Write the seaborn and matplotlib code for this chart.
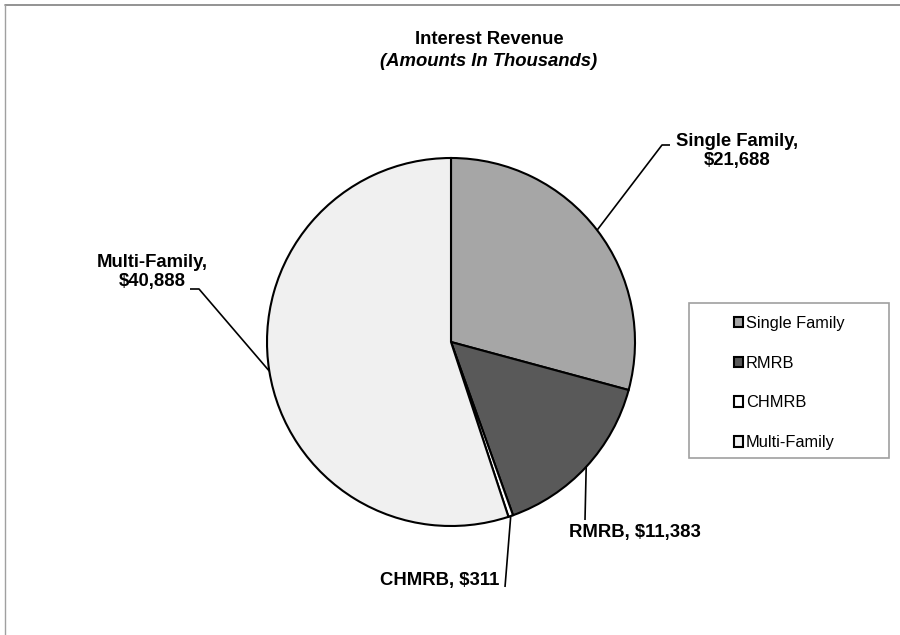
import numpy as np
import matplotlib
matplotlib.use("Agg")
import matplotlib.pyplot as plt
import seaborn as sns
from matplotlib.patches import Rectangle
from matplotlib.lines import Line2D

categories = ["Single Family", "RMRB", "CHMRB", "Multi-Family"]
values = [21688, 11383, 311, 40888]
colors = ["#a6a6a6", "#595959", "#ffffff", "#f0f0f0"]
label_texts = ["Single Family,\n$21,688", "RMRB, $11,383", "CHMRB, $311", "Multi-Family,\n$40,888"]

sns.set_style("white")
plt.rcParams['font.family'] = ['Liberation Sans', 'DejaVu Sans']
plt.rcParams['text.color'] = 'black'

W, H = 900, 635
cx, cy, R = 451, 342, 184
fig = plt.figure(figsize=(9, 6.35), dpi=100)
ax = fig.add_axes([0, 0, 1, 1])

def px(x, y):
    return ((x - cx) / R, (cy - y) / R)

wedges, _ = ax.pie(values, colors=colors, startangle=90, counterclock=False,
                   radius=1.0, wedgeprops=dict(edgecolor="black", linewidth=1.5))
ax.set_aspect("auto")
ax.set_xlim(-cx / R, (W - cx) / R)
ax.set_ylim(-(H - cy) / R, cy / R)
ax.axis("off")

# label positions (pixel space) and leader elbow points
label_pos = [(737, 151), (635, 532), (499, 580), (152, 272)]
label_ha = ["center", "center", "right", "center"]
elbows = [[(662, 145), (670, 145)], [(585, 520)], [(505, 587)], [(199, 289), (190, 289)]]

for w, txt, pos, ha, elb in zip(wedges, label_texts, label_pos, label_ha, elbows):
    ang = np.deg2rad((w.theta1 + w.theta2) / 2)
    x0, y0 = np.cos(ang), np.sin(ang)
    pts = [(x0, y0)] + [px(*e) for e in elb]
    xs, ys = zip(*pts)
    ax.plot(xs, ys, color="black", linewidth=1.2, solid_capstyle="butt")
    ax.text(*px(*pos), txt, ha=ha, va="center", fontsize=13.3, fontweight="bold",
            linespacing=1.15, color="black", multialignment="center")

fig.text(489 / W, 1 - 40 / H, "Interest Revenue", ha="center", va="center",
         fontsize=13.3, fontweight="bold", color="black")
fig.text(489 / W, 1 - 62 / H, "(Amounts In Thousands)", ha="center", va="center",
         fontsize=13.3, fontweight="bold", style="italic", color="black")

# legend
leg = ax.legend(wedges, categories, loc="center", bbox_to_anchor=(789 / W, 1 - 383 / H),
                bbox_transform=fig.transFigure, frameon=False, fontsize=11.8,
                handlelength=0.6, handleheight=0.6, handletextpad=0.15,
                labelspacing=1.52, borderpad=0, labelcolor="black")
fig.patches.append(Rectangle((689 / W, 1 - 458 / H), 200 / W, 155 / H,
                             transform=fig.transFigure, fill=False,
                             edgecolor="#a0a0a0", linewidth=1.2))

# outer border (top and left)
fig.lines.append(Line2D([5 / W, 1], [1 - 5 / H, 1 - 5 / H], transform=fig.transFigure,
                        color="#808080", linewidth=1.2))
fig.lines.append(Line2D([5 / W, 5 / W], [0, 1 - 5 / H], transform=fig.transFigure,
                        color="#a0a0a0", linewidth=1.0))

fig.savefig("out.png", dpi=100)
